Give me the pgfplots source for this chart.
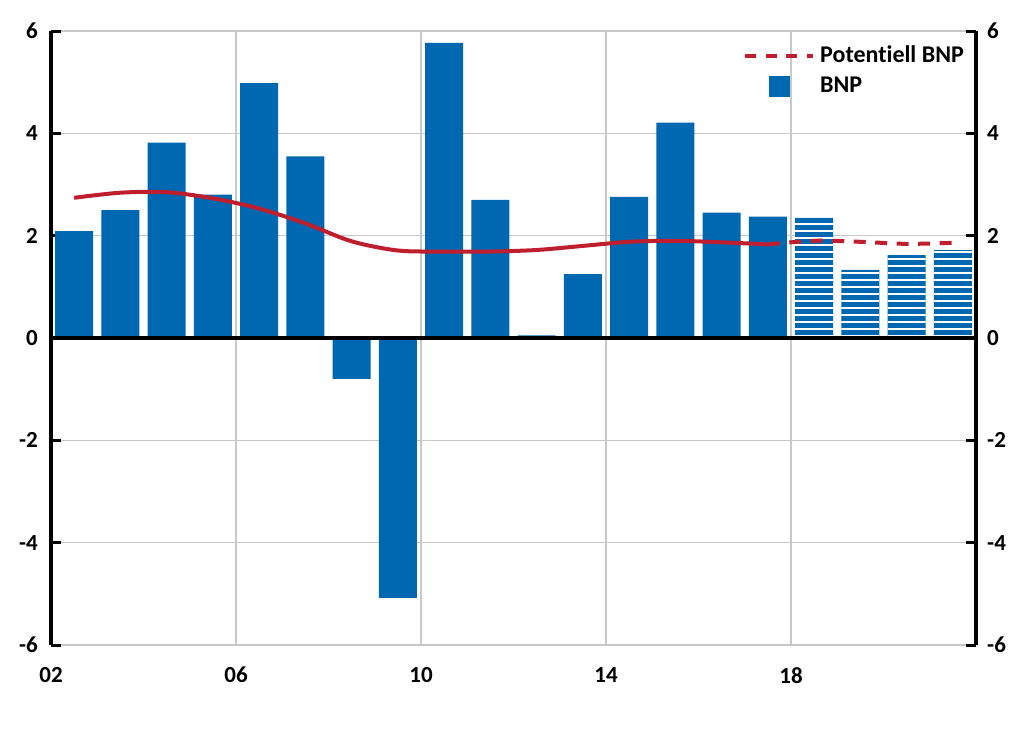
\documentclass[border=0pt]{standalone}
\usepackage{fontspec}
\setmainfont{Carlito}[Ligatures=NoCommon]
\usepackage{pgfplots}
\pgfplotsset{compat=1.18}
\usetikzlibrary{patterns.meta}
\definecolor{barblue}{RGB}{0,103,177}
\definecolor{linered}{RGB}{190,30,45}
\definecolor{gridgray}{RGB}{200,200,200}

\pgfdeclarepattern{
  name=hstripes,
  type=uncolored,
  bottom left={\pgfpoint{0pt}{0pt}},
  top right={\pgfpoint{1200pt}{6.5pt}},
  tile size={\pgfpoint{1200pt}{6.5pt}},
  code={\pgfpathrectangle{\pgfpoint{0pt}{0pt}}{\pgfpoint{1200pt}{2pt}}\pgfusepath{fill}}
}

\pgfplotstableread{
x y
2002.5 2.09
2003.5 2.50
2004.5 3.82
2005.5 2.80
2006.5 4.98
2007.5 3.55
2008.5 -0.80
2009.5 -5.08
2010.5 5.77
2011.5 2.70
2012.5 0.05
2013.5 1.25
2014.5 2.76
2015.5 4.21
2016.5 2.45
2017.5 2.37
}\bnp

\pgfplotstableread{
x y
2018.5 2.35
2019.5 1.33
2020.5 1.62
2021.5 1.72
}\bnpprog

\pgfplotstableread{
x y
2002.5 2.74
2003.5 2.84
2004.5 2.85
2005.5 2.73
2006.5 2.53
2007.5 2.24
2008.5 1.89
2009.5 1.71
2010.5 1.69
2011.5 1.69
2012.5 1.72
2013.5 1.80
2014.5 1.88
2015.5 1.90
2016.5 1.87
2017.5 1.83
}\pot

\pgfplotstableread{
x y
2017.5 1.83
2018.5 1.90
2019.5 1.88
2020.5 1.84
2021.5 1.86
}\potprog

\begin{document}
\begin{tikzpicture}[x=1pt,y=1pt]
\useasboundingbox (0,0) rectangle (1024,740);
\begin{axis}[at={(51pt,95pt)}, anchor=south west, scale only axis,
  width=925pt, height=614pt,
  xmin=2002, xmax=2022, ymin=-6, ymax=6,
  xtick={2002,2006,2010,2014,2018,2022},
  xticklabels={02,06,10,14,18,{}},
  ytick={-6,-4,-2,0,2,4,6},
  yticklabels={-6,-4,-2,0,2,4,6},
  grid=major, grid style={gridgray, line width=1.5pt},
  separate axis lines,
  every outer x axis line/.style={draw=none},
  every outer y axis line/.style={black, line width=3.5pt},
  xtick style={draw=none},
  ytick pos=both, yticklabel pos=left,
  tick align=inside,
  major tick length=10pt,
  ytick style={black, line width=3pt},
  tick label style={font=\bfseries\fontsize{23}{27}\selectfont},
  yticklabel style={inner sep=0pt, xshift=-13pt},
  xticklabel style={inner sep=0pt, yshift=-22pt},
  legend style={at={(1,1)}, anchor=north east, xshift=-10pt, yshift=-13pt,
    draw=none, fill=none, font=\bfseries\fontsize{24}{28}\selectfont,
    row sep=7pt, column sep=3pt, inner sep=0pt,
    nodes={inner sep=2pt, text height=16pt, text depth=3pt}},
  legend cell align=left,
]
\addlegendimage{legend image code/.code={\draw[linered, line width=4pt, dash pattern=on 11pt off 9.5pt] (0pt,0pt) -- (68pt,0pt);}}
\addlegendentry{Potentiell BNP}
\addlegendimage{legend image code/.code={\path[draw=none] (0pt,0pt) -- (68pt,0pt); \fill[barblue] (24pt,-10pt) rectangle (44pt,10pt);}}
\addlegendentry{BNP}

\addplot[ybar, bar width=0.82, bar shift=0pt, draw=none, fill=barblue, forget plot] table[x=x,y=y] {\bnp};
\addplot[ybar, bar width=0.82, bar shift=0pt, draw=none, fill=barblue, forget plot,
  postaction={pattern=hstripes, pattern color=white}] table[x=x,y=y] {\bnpprog};
\addplot[linered, line width=4pt, smooth, no marks, forget plot] table[x=x,y=y] {\pot};
\addplot[linered, line width=4pt, smooth, no marks, dash pattern=on 12pt off 9.5pt, forget plot] table[x=x,y=y] {\potprog};
\draw[black, line width=4pt] (axis cs:2002,0) -- (axis cs:2022,0);
\end{axis}
\begin{axis}[at={(51pt,95pt)}, anchor=south west, scale only axis,
  width=925pt, height=614pt,
  xmin=2002, xmax=2022, ymin=-6, ymax=6,
  hide x axis, axis y line*=right,
  y axis line style={draw=none},
  ytick={-6,-4,-2,0,2,4,6},
  yticklabels={-6,-4,-2,0,2,4,6},
  ytick style={draw=none},
  tick label style={font=\bfseries\fontsize{23}{27}\selectfont},
  yticklabel style={inner sep=0pt, xshift=11pt},
]
\addplot[draw=none, forget plot] coordinates {(2002,0)};
\end{axis}
\end{tikzpicture}
\end{document}
